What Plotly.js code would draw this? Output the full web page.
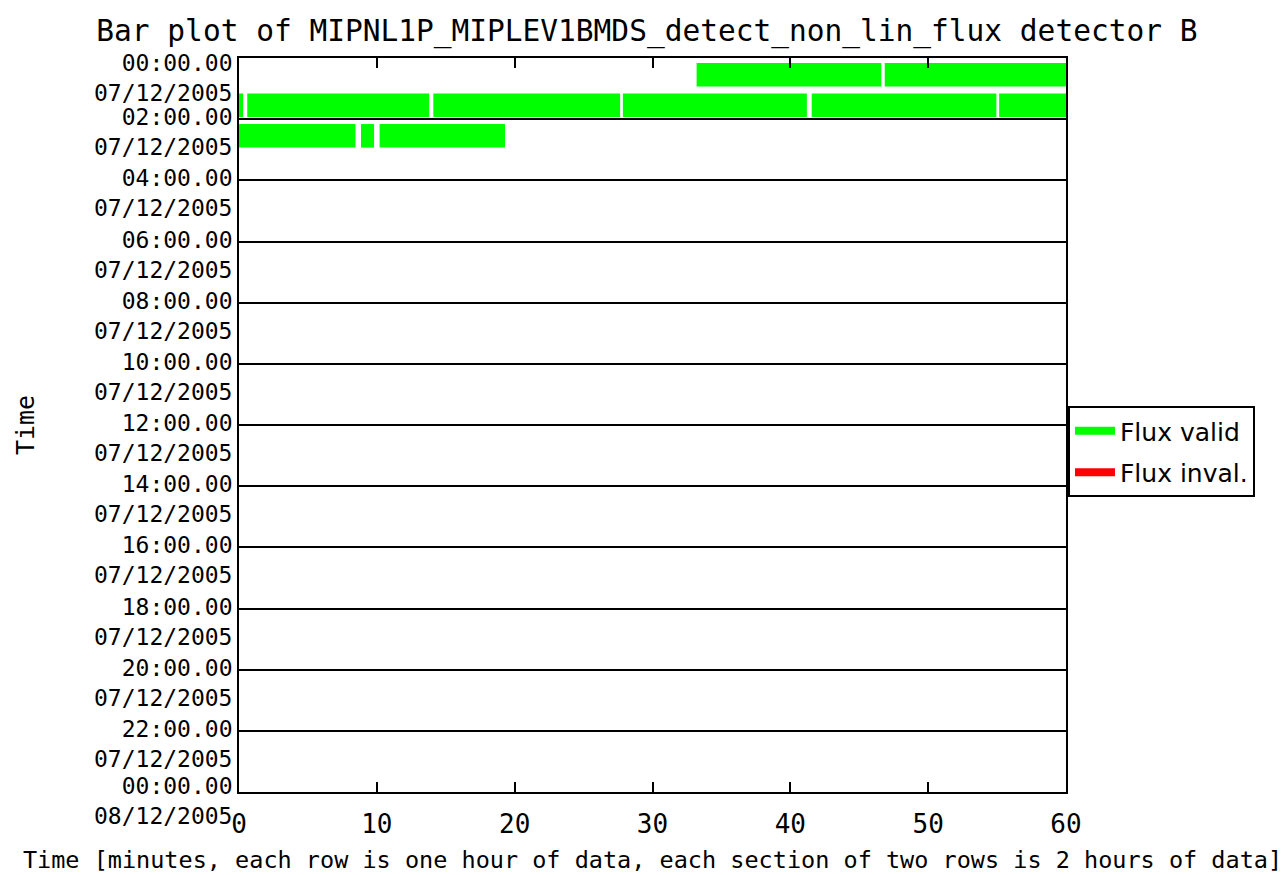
<!DOCTYPE html>
<html>
<head>
<meta charset="utf-8">
<script src="https://cdn.plot.ly/plotly-3.0.1.min.js"></script>
<style>html,body{margin:0;padding:0;background:#fff;}#chart{width:1281px;height:875px;}</style>
</head>
<body>
<div id="chart"></div>
<script>
// ---- data (minutes within each hour row) ----
const segRows   = [0, 0, 1, 1, 1, 1, 1, 1, 2, 2, 2];
const segStarts = [33.2, 46.85, 0, 0.6, 14.1, 27.85, 41.55, 55.15, 0, 8.85, 10.2];
const segEnds   = [46.6, 60, 0.3, 13.8, 27.65, 41.2, 54.95, 60, 8.45, 9.8, 19.3];

const tickHours  = [0, 2, 4, 6, 8, 10, 12, 14, 16, 18, 20, 22, 24];
const timeLabels = ["00:00.00","02:00.00","04:00.00","06:00.00","08:00.00","10:00.00",
                    "12:00.00","14:00.00","16:00.00","18:00.00","20:00.00","22:00.00","00:00.00"];
const dateLabels = ["07/12/2005","07/12/2005","07/12/2005","07/12/2005","07/12/2005","07/12/2005",
                    "07/12/2005","07/12/2005","07/12/2005","07/12/2005","07/12/2005","07/12/2005","08/12/2005"];
const xTicks = [0, 10, 20, 30, 40, 50, 60];
const seriesNames = ["Flux valid", "Flux inval."];
const seriesColors = ["#00ff00", "#ff0000"];

const MONO = "DejaVu Sans Mono";

const traces = [
  {
    type: "bar", orientation: "h",
    y: segRows,
    base: segStarts,
    x: segEnds.map((e, i) => e - segStarts[i]),
    width: 0.77, offset: 0.16,
    marker: {color: seriesColors[0], line: {width: 0}},
    showlegend: false, hoverinfo: "skip"
  },
  {type: "scatter", mode: "lines", x: [null], y: [null], name: seriesNames[0],
   legendgroup: "a", line: {color: seriesColors[0], width: 8}},
  {type: "scatter", mode: "lines", x: [null], y: [null], name: seriesNames[1],
   legendgroup: "b", line: {color: seriesColors[1], width: 8}}
];

const annotations = tickHours.map((h, i) => {
  let shift = -13;
  if (i === 0) shift = -20;
  if (i === tickHours.length - 1) shift = -9;
  return {xref: "paper", yref: "y", x: 0, y: h, xanchor: "right", yanchor: "middle", align: "right",
    xshift: -5, yshift: shift, showarrow: false,
    text: timeLabels[i] + "<br>" + dateLabels[i],
    font: {family: MONO, size: 23, color: "#000"}};
});

const layout = {
  width: 1281, height: 875,
  paper_bgcolor: "#fff", plot_bgcolor: "#fff",
  margin: {l: 239, r: 215, t: 58, b: 83},
  title: {text: "Bar plot of MIPNL1P_MIPLEV1BMDS_detect_non_lin_flux detector B",
          font: {family: MONO, size: 29.5, color: "#000"},
          x: 0.505, xanchor: "center", y: 1 - 31/875, yanchor: "middle", yref: "container"},
  barmode: "overlay",
  showlegend: true,
  legend: {x: 1.0024, xanchor: "left", y: (792-406)/734, yanchor: "top",
           bgcolor: "#fff", bordercolor: "#000", borderwidth: 2,
           font: {family: "DejaVu Sans", size: 25, color: "#000"},
           itemwidth: 40,
           tracegroupgap: 6, traceorder: "grouped"},
  xaxis: {range: [0, 60], tickvals: xTicks, ticktext: xTicks.map(String),
          ticks: "inside", ticklen: 10, tickwidth: 2, tickcolor: "#000",
          showline: true, linecolor: "#000", linewidth: 2, mirror: "ticks",
          showgrid: false, zeroline: false,
          tickfont: {family: MONO, size: 26, color: "#000"},
          ticklabelstandoff: 8,
          title: {text: "Time [minutes, each row is one hour of data, each section of two rows is 2 hours of data]",
                  font: {family: MONO, size: 23.5, color: "#000"}, standoff: 13}},
  yaxis: {range: [24, 0], tickvals: tickHours, showticklabels: false, ticks: "",
          showline: true, linecolor: "#000", linewidth: 2, mirror: true,
          showgrid: true, gridcolor: "#000", gridwidth: 2, zeroline: false,
          title: {text: "Time", font: {family: MONO, size: 25, color: "#000"}, standoff: 195}},
  annotations: annotations,
  hovermode: false
};

Plotly.newPlot("chart", traces, layout, {displayModeBar: false, staticPlot: true});
</script>
</body>
</html>
